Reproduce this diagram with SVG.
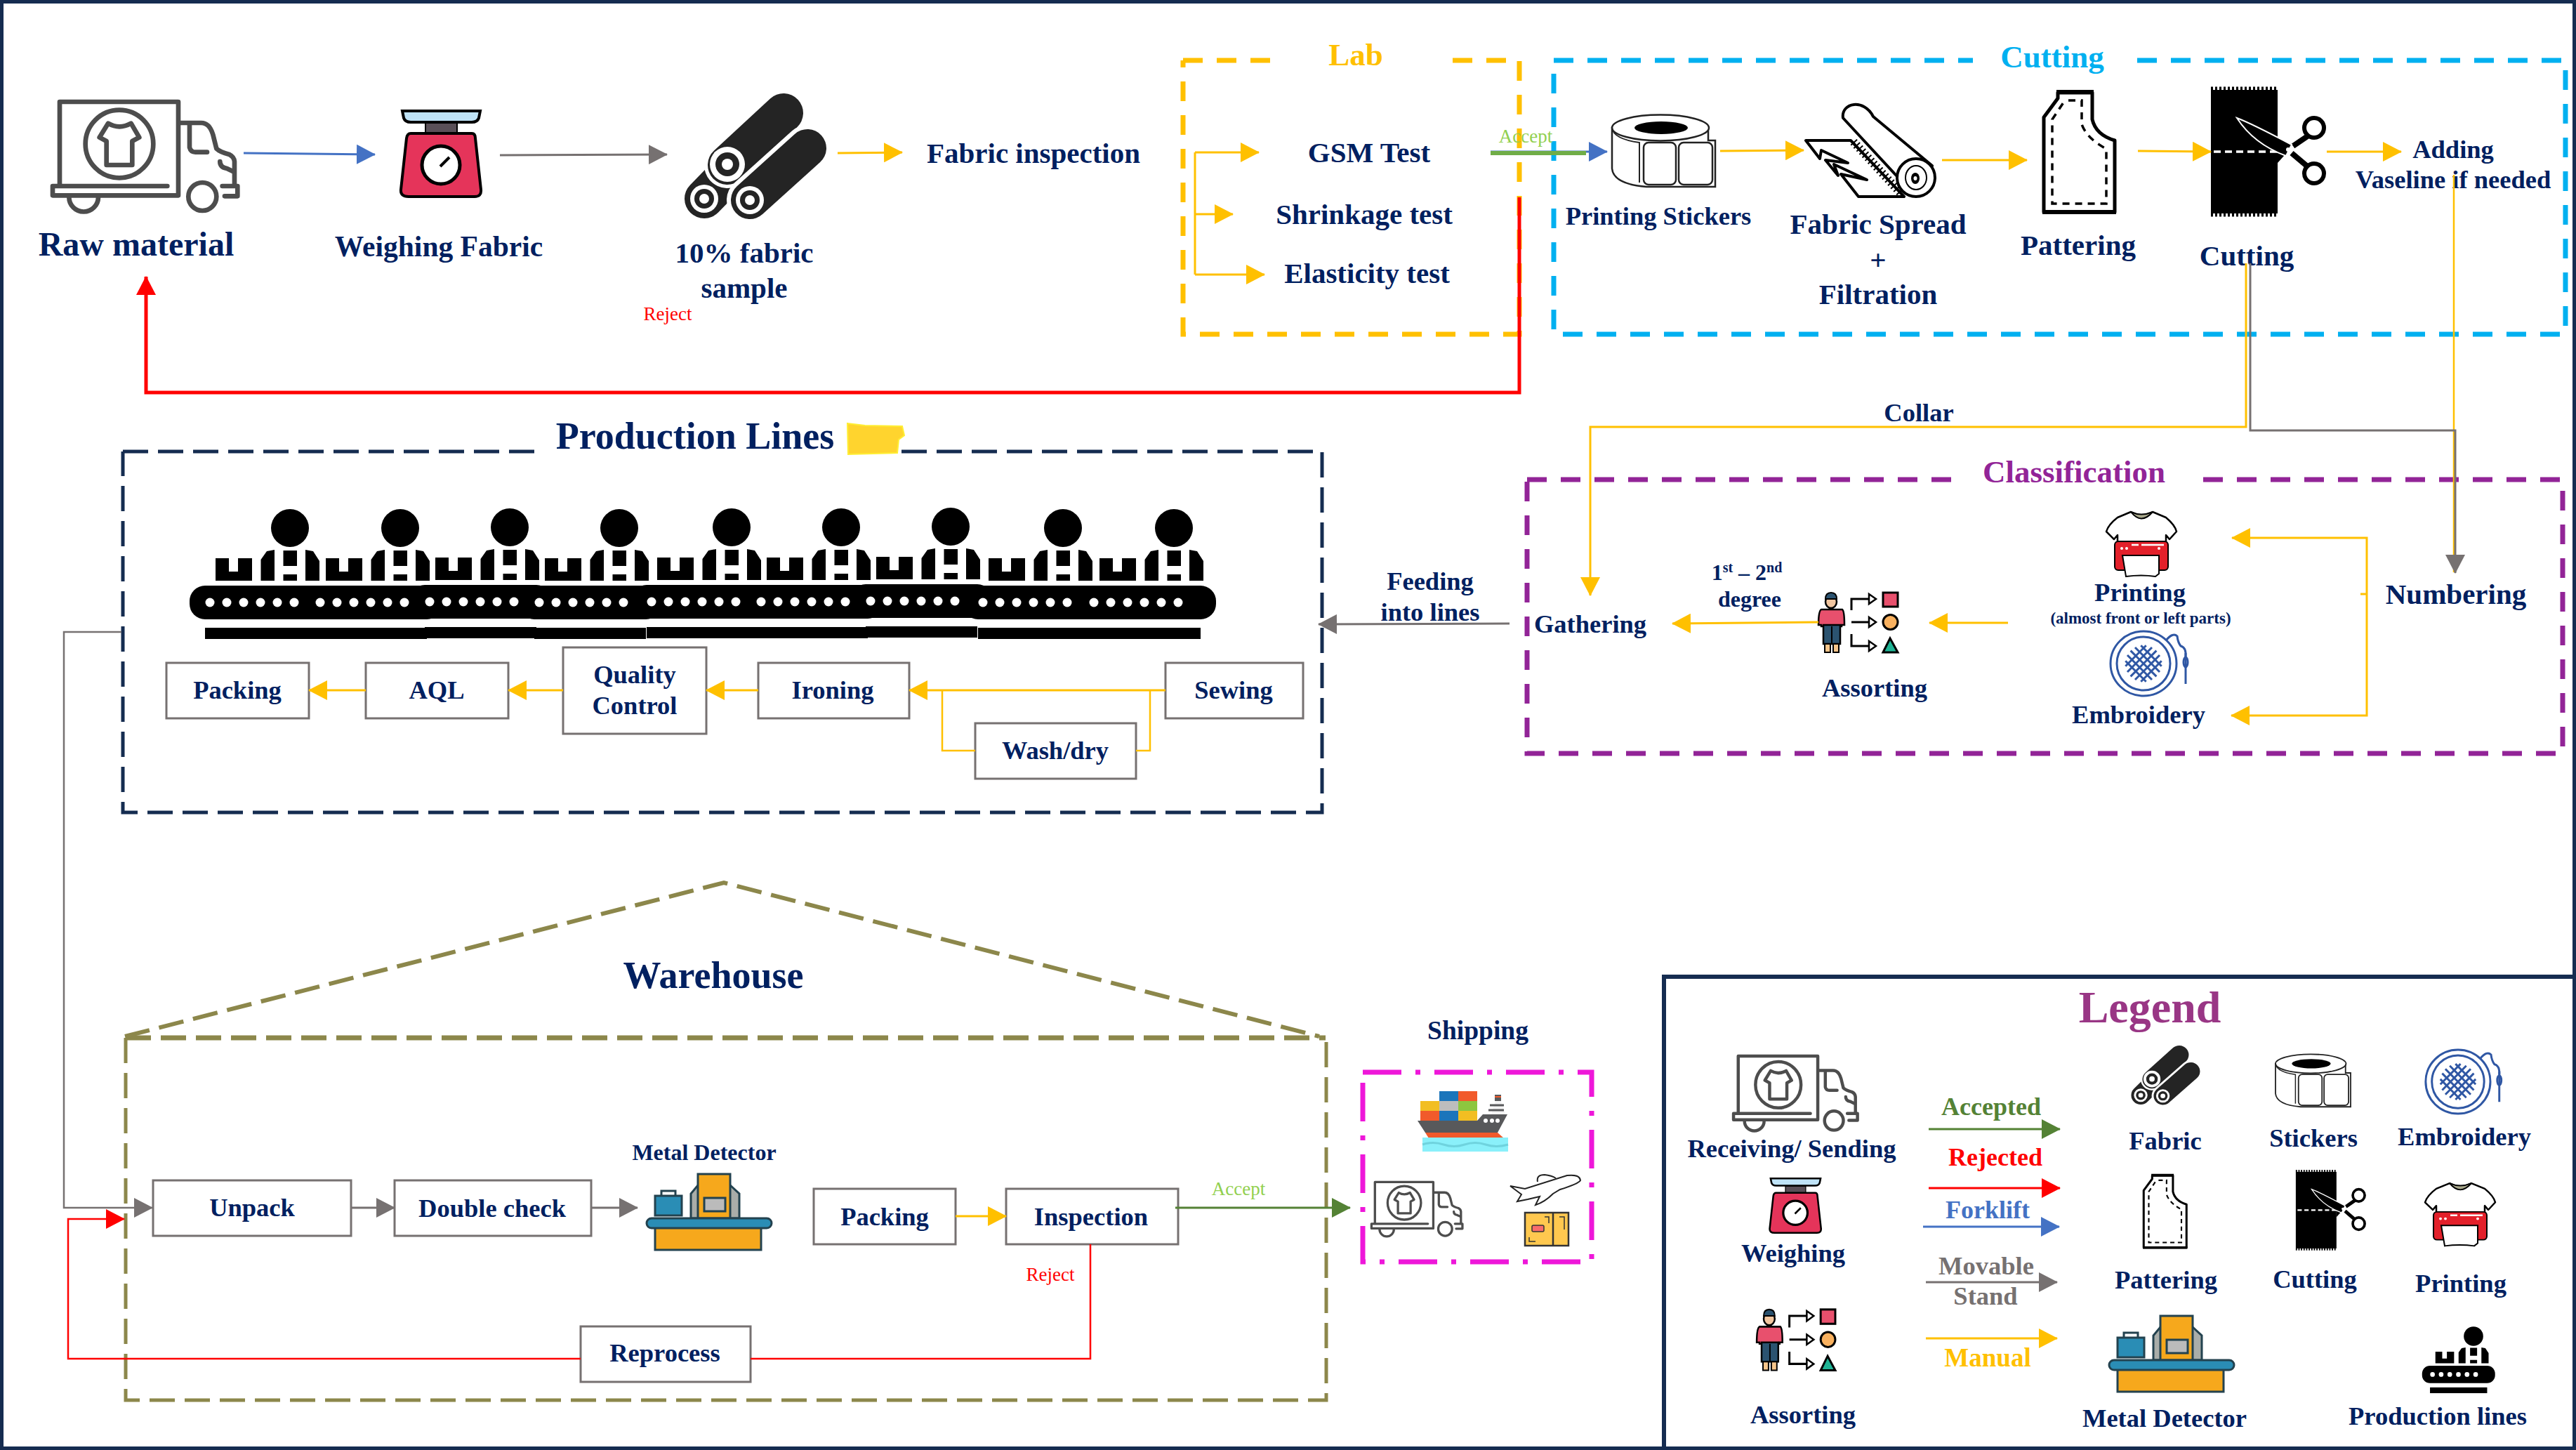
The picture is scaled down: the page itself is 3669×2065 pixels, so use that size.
<svg xmlns="http://www.w3.org/2000/svg" xmlns:xlink="http://www.w3.org/1999/xlink" width="3669" height="2065" viewBox="0 0 3669 2065">
<style>
text{font-family:"Liberation Serif","Times New Roman",serif}
.t{font-weight:bold;fill:#002060;text-anchor:middle;font-size:36.5px}
.b{font-size:41px}
.r{font-weight:normal;font-size:27px;text-anchor:middle}
.box{fill:#fff;stroke:#767171;stroke-width:3}
.f{fill:none}
.lab{stroke:#FFC000;stroke-width:7;stroke-dasharray:28 20}
.cut{stroke:#00B0F0;stroke-width:7;stroke-dasharray:28 20}
.cls{stroke:#922497;stroke-width:7;stroke-dasharray:28 20}
.pro{stroke:#152C50;stroke-width:5;stroke-dasharray:36 14}
.wh{stroke:#8C874B;stroke-width:5;stroke-dasharray:36 14}
.shp{stroke:#EE17D9;stroke-width:7;stroke-dasharray:55 20 7 20}
.o,.ol{stroke:#FFC000;stroke-width:3;fill:none}
.g,.gl{stroke:#767171;stroke-width:3;fill:none}
.u{stroke:#4472C4;stroke-width:3;fill:none}
.v{stroke:#548235;stroke-width:3;fill:none}
.x,.xl{stroke:#FF0000;stroke-width:2.5;fill:none}
.o{marker-end:url(#ao)}.g{marker-end:url(#ag)}.u{marker-end:url(#au)}.v{marker-end:url(#av)}.x{marker-end:url(#ax)}
.tk{fill:none;stroke:#4D4D4D;stroke-width:20;stroke-linejoin:round;stroke-linecap:round}
.em{fill:none;stroke:#2F57A4;stroke-width:3}
</style>
<defs>
<marker id="ao" markerUnits="userSpaceOnUse" markerWidth="27" markerHeight="28" refX="26" refY="14" orient="auto"><path d="M0 0L27 14L0 28Z" fill="#FFC000"/></marker>
<marker id="ag" markerUnits="userSpaceOnUse" markerWidth="27" markerHeight="28" refX="26" refY="14" orient="auto"><path d="M0 0L27 14L0 28Z" fill="#767171"/></marker>
<marker id="au" markerUnits="userSpaceOnUse" markerWidth="27" markerHeight="28" refX="26" refY="14" orient="auto"><path d="M0 0L27 14L0 28Z" fill="#4472C4"/></marker>
<marker id="av" markerUnits="userSpaceOnUse" markerWidth="27" markerHeight="28" refX="26" refY="14" orient="auto"><path d="M0 0L27 14L0 28Z" fill="#548235"/></marker>
<marker id="ax" markerUnits="userSpaceOnUse" markerWidth="27" markerHeight="28" refX="26" refY="14" orient="auto"><path d="M0 0L27 14L0 28Z" fill="#FF0000"/></marker>

<g id="i-truck">
<path class="tk" d="M75 430V75H582V475H45V435H535"/>
<path class="tk" d="M115 482A62 62 0 0 0 240 482"/>
<circle class="tk" cx="330" cy="255" r="145"/>
<path class="tk" d="M282 167Q330 195 380 167L415 227L385 243V345H275V243L245 227Z"/>
<path class="tk" d="M590 165H680Q715 165 730 215L745 275Q760 290 800 300Q820 310 822 330V430"/>
<path class="tk" d="M630 170V270Q635 290 655 290H705"/>
<path class="tk" d="M760 330Q760 355 790 360L815 372"/>
<circle class="tk" cx="685" cy="480" r="60"/>
<path class="tk" d="M770 435H835V478H780"/>
</g>

<g id="i-scale">
<path d="M606 175H651V190H606Z" fill="#5A5058" stroke="#000" stroke-width="2"/>
<path d="M573 158H684L682 168Q680 174 672 174H585Q577 174 575 168Z" fill="#BFE3F7" stroke="#000" stroke-width="4"/>
<path d="M585 190H672Q677 190 677 197L685 270Q686 280 676 280H582Q570 280 571 270L579 197Q580 190 585 190Z" fill="#E5345A" stroke="#000" stroke-width="4"/>
<circle cx="628" cy="235" r="27" fill="#fff" stroke="#000" stroke-width="5"/>
<path d="M627 237L640 224" stroke="#000" stroke-width="4" fill="none"/>
</g>

<g id="i-rolls">
<path d="M1003 283L1045 240" stroke="#242424" stroke-width="56" stroke-linecap="round"/>
<path d="M1036 235L1116 161" stroke="#fff" stroke-width="66" stroke-linecap="round"/>
<path d="M1036 235L1116 161" stroke="#242424" stroke-width="56" stroke-linecap="round"/>
<path d="M1068 285L1150 211" stroke="#fff" stroke-width="66" stroke-linecap="round"/>
<path d="M1068 285L1150 211" stroke="#242424" stroke-width="54" stroke-linecap="round"/>
<circle cx="1036" cy="234" r="25" fill="#fff"/><circle cx="1036" cy="234" r="17" fill="#242424"/><circle cx="1036" cy="234" r="8" fill="#fff"/>
<circle cx="1003" cy="283" r="20" fill="#fff"/><circle cx="1003" cy="283" r="14" fill="#242424"/><circle cx="1003" cy="283" r="7" fill="#fff"/>
<circle cx="1068" cy="285" r="20" fill="#fff"/><circle cx="1068" cy="285" r="14" fill="#242424"/><circle cx="1068" cy="285" r="7" fill="#fff"/>
</g>

<g id="i-stickers">
<path d="M2296 182V240Q2298 262 2345 266H2443V200H2433V182Z" fill="#fff" stroke="#222" stroke-width="2.5"/>
<ellipse cx="2365" cy="182" rx="69" ry="18.5" fill="#fff" stroke="#222" stroke-width="2.5"/>
<ellipse cx="2366" cy="182" rx="38" ry="9" fill="#000"/>
<path d="M2296 182Q2298 198 2335 203V260" fill="none" stroke="#222" stroke-width="2"/>
<rect x="2341" y="203" width="46" height="60" rx="7" fill="#fff" stroke="#222" stroke-width="2.5"/>
<rect x="2391" y="203" width="48" height="60" rx="7" fill="#fff" stroke="#222" stroke-width="2.5"/>
</g>

<g id="i-spread">
<path d="M2572 200H2636L2712 280H2647L2622 248L2659 256L2612 234L2618 250L2600 228L2632 232L2594 214L2592 226Z" fill="#fff" stroke="#000" stroke-width="4" stroke-linejoin="round"/>
<path d="M2640 202L2708 276" stroke="#000" stroke-width="12" stroke-dasharray="2 4" fill="none"/>
<path d="M2625 168C2622 146 2655 140 2668 166L2752 236L2712 262Z" fill="#fff" stroke="#000" stroke-width="4" stroke-linejoin="round"/>
<ellipse cx="2729" cy="253" rx="27" ry="27" fill="#fff" stroke="#000" stroke-width="4"/>
<ellipse cx="2729" cy="253" rx="15" ry="17" fill="none" stroke="#000" stroke-width="2"/>
<ellipse cx="2728" cy="254" rx="6" ry="8" fill="#000"/><ellipse cx="2728" cy="254" rx="2.5" ry="3" fill="#fff"/>
</g>

<g id="i-pattern">
<path d="M2931 132H2980V170Q2985 192 3012 200V302H2911V167L2931 140Z" fill="#fff" stroke="#000" stroke-width="5" stroke-linejoin="round"/>
<path d="M2929 131H2982M2909 302H3014" stroke="#000" stroke-width="6"/>
<path d="M2946 143H2965V177Q2972 197 3000 212V290H2923V170L2941 143" fill="none" stroke="#000" stroke-width="3.5" stroke-dasharray="10 8"/>
</g>

<g id="i-cutting">
<rect x="3149" y="128" width="95" height="176" fill="#000"/>
<path d="M3149 126H3244M3149 306H3244" stroke="#000" stroke-width="5" stroke-dasharray="3 3"/>
<path d="M3153 216H3246" stroke="#fff" stroke-width="3.5" stroke-dasharray="10 6"/>
<path d="M3244 232L3262 212L3244 205Z" fill="#000"/>
<path d="M3266 208L3288 193M3264 218L3290 240" stroke="#000" stroke-width="8"/>
<circle cx="3296" cy="182" r="14" fill="#fff" stroke="#000" stroke-width="6"/>
<circle cx="3296" cy="247" r="14" fill="#fff" stroke="#000" stroke-width="6"/>
<path d="M3186 168Q3205 175 3264 206L3256 222Q3210 205 3186 168Z" fill="#000" stroke="#fff" stroke-width="2"/>
<circle cx="3259" cy="213" r="3" fill="#fff"/>
</g>

<g id="i-print">
<path d="M3035 729Q3050 738 3066 729L3085 737Q3098 748 3100 757L3090 768L3085 762V773H3016V762L3011 768L3000 757Q3003 747 3016 737Z" fill="#fff" stroke="#000" stroke-width="2.5" stroke-linejoin="round"/>
<path d="M3035 729Q3050 748 3066 729Q3050 736 3035 729Z" fill="#A9A98C" stroke="#000" stroke-width="2"/>
<rect x="3012" y="771" width="76" height="41" rx="5" fill="#E3202A" stroke="#000" stroke-width="2"/>
<path d="M3036 776H3046M3050 776H3082" stroke="#fff" stroke-width="2.5"/>
<circle cx="3022" cy="781" r="2" fill="#fff"/><circle cx="3029" cy="781" r="2" fill="#fff"/><circle cx="3075" cy="781" r="2" fill="#fff"/>
<path d="M3023 791H3075V817L3070 821Q3050 818 3028 821Z" fill="#fff" stroke="#000" stroke-width="2"/>
</g>

<g id="i-emb">
<ellipse class="em" cx="3053" cy="945" rx="47" ry="46"/>
<ellipse class="em" cx="3053" cy="945" rx="38" ry="38"/>
<g transform="translate(3053 945)">
<path class="em" d="M-18.4-18.4L18.4 18.4M-12-23L23 12M-23-12L12 23M-3.7-25.7L25.7 3.7M-25.7-3.7L3.7 25.7"/>
<path class="em" transform="scale(-1 1)" d="M-18.4-18.4L18.4 18.4M-12-23L23 12M-23-12L12 23M-3.7-25.7L25.7 3.7M-25.7-3.7L3.7 25.7"/>
</g>
<path class="em" d="M3085 912Q3095 900 3101 906Q3102 915 3106 920Q3114 922 3113 935"/>
<path class="em" d="M3113 930V974" stroke-width="2"/>
<ellipse class="em" cx="3113" cy="943" rx="3" ry="7" stroke-width="2"/>
</g>

<g id="i-assort">
<path d="M2594 868H2624Q2627 870 2627 890H2623V892H2594V890H2590Q2590 870 2594 868Z" fill="#E8506D" stroke="#000" stroke-width="2.5"/>
<path d="M2597 890H2621V917H2597Z" fill="#2B5370" stroke="#000" stroke-width="2.5"/>
<path d="M2609 892V917" stroke="#000" stroke-width="2"/>
<path d="M2599 917H2607V929H2599ZM2611 917H2619V929H2611Z" fill="#F6C58A" stroke="#000" stroke-width="2"/>
<ellipse cx="2608" cy="857" rx="8" ry="9" fill="#F2C6A0" stroke="#000" stroke-width="2.5"/>
<path d="M2600 853Q2600 844 2608 844Q2616 844 2616 853Z" fill="#2B5370" stroke="#000" stroke-width="2"/>
<path d="M2637 869V853H2662M2637 886H2662M2637 903V920H2662" fill="none" stroke="#000" stroke-width="3"/>
<path d="M2662 846L2672 853L2662 860ZM2662 879L2672 886L2662 893ZM2662 913L2672 920L2662 927Z" fill="#fff" stroke="#000" stroke-width="2.5"/>
<rect x="2682" y="844" width="21" height="20" fill="#E8506D" stroke="#000" stroke-width="3"/>
<ellipse cx="2692.5" cy="886" rx="10.5" ry="10.5" fill="#F9B15F" stroke="#000" stroke-width="3"/>
<path d="M2692 909L2703 929H2682Z" fill="#1FB495" stroke="#000" stroke-width="3"/>
</g>

<g id="i-metal">
<rect x="933" y="1748" width="151" height="32" fill="#F6A81C" stroke="#23424F" stroke-width="3"/>
<path d="M984 1735V1700L994 1688H1040L1053 1700V1735Z" fill="#A9ADA9" stroke="#23424F" stroke-width="3"/>
<rect x="994" y="1672" width="46" height="63" fill="#F6A81C" stroke="#23424F" stroke-width="3"/>
<rect x="1003" y="1706" width="30" height="19" fill="#BBB" stroke="#23424F" stroke-width="3"/>
<rect x="933" y="1703" width="38" height="28" fill="#2A8DB5" stroke="#23424F" stroke-width="3"/>
<path d="M942 1703V1696H962V1703" fill="none" stroke="#23424F" stroke-width="3"/>
<rect x="921" y="1735" width="178" height="14" rx="7" fill="#2A8DB5" stroke="#23424F" stroke-width="3"/>
</g>

<g id="i-pl">
<ellipse cx="0" cy="0" rx="27" ry="27"/>
<path d="M-106 43H-87V62H-74V43H-54V75H-106Z"/>
<path d="M-41.5 75V45L-33 33L-22 31V75ZM-9.5 32H10V54H-9.5ZM-9.5 66H10V75H-9.5ZM22 31L33 33L42 47V75H22Z"/>
<rect x="-143" y="82" width="203" height="48" rx="22"/>
<rect x="-121" y="142" width="159" height="16"/>
<g fill="#fff"><circle cx="-114" cy="106" r="6.5"/><circle cx="-90" cy="106" r="6.5"/><circle cx="-66" cy="106" r="6.5"/><circle cx="-42" cy="106" r="6.5"/><circle cx="-18" cy="106" r="6.5"/><circle cx="6" cy="106" r="6.5"/></g>
</g>
</defs>

<rect width="3669" height="2065" fill="#fff"/>
<rect id="page-border" x="0" y="0" width="3669" height="2065" fill="none" stroke="#152C50" stroke-width="10"/>

<g id="frames">
<path class="f lab" d="M1685 86H1811M2069 86H2164V476H1685V86"/>
<text x="1931" y="93" font-size="45" font-weight="bold" fill="#FFC000" text-anchor="middle">Lab</text>
<path class="f cut" d="M2213 86H2810M3044 86H3654V476H2213V86"/>
<text x="2923" y="96" font-size="45" font-weight="bold" fill="#00B0F0" text-anchor="middle">Cutting</text>
<path class="f cls" d="M2175 683H2783M3138 683H3650V1073H2175V683"/>
<text x="2954" y="687" font-size="45" font-weight="bold" fill="#922497" text-anchor="middle">Classification</text>
<path class="f pro" d="M175 643H761M1284 643H1883V1157H175V643"/>
<text class="t" x="990" y="639" style="font-size:54px">Production Lines</text>
<path d="M1207 603L1232 606L1285 607L1288 620L1280 626L1278 645L1208 647Z" fill="#FFD42E" stroke="#FFEE33" stroke-width="2"/>
<path class="f wh" d="M179 1478V1994H1889V1478"/>
<path class="f wh" d="M179 1478H1888" style="stroke-width:7"/>
<path class="f wh" d="M178 1476L1031 1257L1879 1476" style="stroke-width:6"/>
<text class="t" x="1016" y="1407" style="font-size:54px">Warehouse</text>
<path class="f shp" d="M1941 1527H2267V1797H1941Z"/>
<text class="t" x="2105" y="1480" style="font-size:37.5px">Shipping</text>
</g>

<g id="nodes">
<g id="n-raw"><use href="#i-truck" transform="translate(60 120) scale(.3333)"/><text class="t" x="194" y="364" style="font-size:48px">Raw material</text></g>
<g id="n-weigh"><use href="#i-scale"/><text class="t b" x="625" y="365" style="font-size:41.5px">Weighing Fabric</text></g>
<g id="n-sample"><use href="#i-rolls"/><text class="t b" x="1060" y="374">10% fabric</text><text class="t b" x="1060" y="424">sample</text></g>
<g id="n-inspect"><text class="t b" x="1472" y="232">Fabric inspection</text></g>
<g id="n-gsm"><text class="t b" x="1950" y="231">GSM Test</text></g>
<g id="n-shrink"><text class="t b" x="1943" y="319">Shrinkage test</text></g>
<g id="n-elastic"><text class="t b" x="1947" y="403">Elasticity test</text></g>
<g id="n-stickers"><use href="#i-stickers"/><text class="t" x="2362" y="320">Printing Stickers</text></g>
<g id="n-spread"><use href="#i-spread"/><text class="t b" x="2675" y="333">Fabric Spread</text><text class="t b" x="2675" y="384">+</text><text class="t b" x="2675" y="433">Filtration</text></g>
<g id="n-pattern"><use href="#i-pattern"/><text class="t b" x="2960" y="363">Pattering</text></g>
<g id="n-cutting"><use href="#i-cutting"/><text class="t b" x="3200" y="378">Cutting</text></g>
<g id="n-vaseline"><text class="t" x="3494" y="225">Adding</text><text class="t" x="3494" y="268">Vaseline if needed</text></g>
<g id="n-numbering"><text class="t b" x="3498" y="860">Numbering</text></g>
<g id="n-printing"><use href="#i-print"/><text class="t" x="3048" y="856">Printing</text><text class="t" x="3049" y="888" style="font-size:23px">(almost front or left parts)</text></g>
<g id="n-embroidery"><use href="#i-emb"/><text class="t" x="3046" y="1030">Embroidery</text></g>
<g id="n-assorting"><use href="#i-assort"/><text class="t" x="2670" y="992">Assorting</text></g>
<g id="n-degree"><text class="t" x="2488" y="826" style="font-size:32px">1<tspan dy="-11" font-size="20">st</tspan><tspan dy="11"> – 2</tspan><tspan dy="-11" font-size="20">nd</tspan></text><text class="t" x="2492" y="864" style="font-size:32px">degree</text></g>
<g id="n-gathering"><text class="t" x="2265" y="901">Gathering</text></g>
<g id="n-feeding"><text class="t" x="2037" y="840">Feeding</text><text class="t" x="2037" y="884">into lines</text></g>

<g id="n-lines">
<use href="#i-pl" transform="translate(413 752)"/><use href="#i-pl" transform="translate(570 752)"/><use href="#i-pl" transform="translate(726 751)"/><use href="#i-pl" transform="translate(882 752)"/><use href="#i-pl" transform="translate(1042 751)"/><use href="#i-pl" transform="translate(1198 751)"/><use href="#i-pl" transform="translate(1354 750)"/><use href="#i-pl" transform="translate(1514 752)"/><use href="#i-pl" transform="translate(1672 752)"/>
</g>
<g id="n-sewing"><rect class="box" x="1660" y="944" width="196" height="79"/><text class="t" x="1757" y="995">Sewing</text></g>
<g id="n-wash"><rect class="box" x="1389" y="1030" width="229" height="79"/><text class="t" x="1503" y="1081">Wash/dry</text></g>
<g id="n-ironing"><rect class="box" x="1080" y="944" width="215" height="79"/><text class="t" x="1186" y="995">Ironing</text></g>
<g id="n-qc"><rect class="box" x="802" y="922" width="204" height="123"/><text class="t" x="904" y="973">Quality</text><text class="t" x="904" y="1017">Control</text></g>
<g id="n-aql"><rect class="box" x="521" y="944" width="203" height="79"/><text class="t" x="622" y="995">AQL</text></g>
<g id="n-packing1"><rect class="box" x="237" y="944" width="203" height="79"/><text class="t" x="338" y="995">Packing</text></g>

<g id="n-unpack"><rect class="box" x="218" y="1681" width="282" height="79"/><text class="t" x="359" y="1732">Unpack</text></g>
<g id="n-double"><rect class="box" x="562" y="1681" width="280" height="79"/><text class="t" x="701" y="1733">Double check</text></g>
<g id="n-metal"><use href="#i-metal"/><text class="t" x="1003" y="1652" style="font-size:32px">Metal Detector</text></g>
<g id="n-packing2"><rect class="box" x="1159" y="1693" width="202" height="79"/><text class="t" x="1260" y="1745">Packing</text></g>
<g id="n-inspection"><rect class="box" x="1433" y="1693" width="245" height="79"/><text class="t" x="1554" y="1745">Inspection</text></g>
<g id="n-reprocess"><rect class="box" x="827" y="1889" width="242" height="79"/><text class="t" x="947" y="1939">Reprocess</text></g>

<g id="n-shipping">
<rect x="2050" y="1554" width="27" height="14" fill="#1B75BB"/><rect x="2077" y="1554" width="27" height="14" fill="#F15A2B"/>
<rect x="2023" y="1568" width="27" height="14" fill="#F2BE22"/><rect x="2050" y="1568" width="27" height="14" fill="#BDBDBD"/><rect x="2077" y="1568" width="27" height="14" fill="#8DC63F"/>
<rect x="2023" y="1582" width="27" height="14" fill="#F15A2B"/><rect x="2050" y="1582" width="27" height="14" fill="#1B75BB"/><rect x="2077" y="1582" width="27" height="14" fill="#F2BE22"/>
<rect x="2129" y="1559" width="9" height="9" fill="#58595B"/><rect x="2129" y="1561" width="9" height="2" fill="#F15A2B"/>
<path d="M2124 1587L2130 1568H2138L2144 1587Z" fill="#F4F4F4"/>
<path d="M2122 1574H2142M2120 1581H2142" stroke="#58595B" stroke-width="3"/>
<path d="M2019 1596H2104L2112 1587H2147L2133 1613H2030Z" fill="#58595B"/>
<circle cx="2116" cy="1596" r="3" fill="#fff"/><circle cx="2125" cy="1596" r="3" fill="#fff"/><circle cx="2133" cy="1596" r="3" fill="#fff"/>
<path d="M2030 1613H2133L2142 1621H2035Z" fill="#F15A2B"/>
<rect x="2026" y="1620" width="122" height="20" fill="#8AF0FA"/>
<path d="M2026 1630Q2041 1625 2056 1630T2086 1630T2116 1630T2148 1630" fill="none" stroke="#6FD3DE" stroke-width="3"/>
<use href="#i-truck" transform="translate(1946 1671) scale(.164 .165)"/>
<path d="M2151 1689L2172 1693L2232 1674Q2250 1672 2251 1681Q2248 1686 2222 1694L2212 1700Q2200 1712 2187 1716L2193 1704L2176 1708L2161 1711L2167 1701Z" fill="#fff" stroke="#222" stroke-width="2"/>
<path d="M2190 1683Q2188 1673 2200 1673Q2210 1674 2216 1678" fill="#fff" stroke="#222" stroke-width="2"/>
<rect x="2172" y="1727" width="62" height="47" fill="#FFC84F" stroke="#333" stroke-width="2.5"/>
<path d="M2212 1727V1774" stroke="#333" stroke-width="2.5"/>
<path d="M2200 1733H2206V1742M2221 1733H2228V1751M2178 1762V1768H2187" fill="none" stroke="#333" stroke-width="1.5"/>
<rect x="2182" y="1745" width="17" height="9" rx="2" fill="#F96B6B" stroke="#333" stroke-width="1.5"/>
</g>

<g id="legend">
<path d="M2370 2065V1391H3669" fill="none" stroke="#152C50" stroke-width="6"/>
<text x="3062" y="1456" font-size="64" font-weight="bold" fill="#993685" text-anchor="middle">Legend</text>
<g id="lg-truck"><use href="#i-truck" transform="translate(2459 1487) scale(.2235 .227)"/><text class="t" x="2552" y="1648">Receiving/ Sending</text></g>
<g id="lg-weigh"><use href="#i-scale" transform="translate(2154.6 1578) scale(.641 .635)"/><text class="t" x="2554" y="1797">Weighing</text></g>
<g id="lg-assort"><use href="#i-assort" transform="translate(-62 1004) scale(.99 1.02)"/><text class="t" x="2568" y="2027">Assorting</text></g>
<g id="lg-fabric"><use href="#i-rolls" transform="translate(2562.6 1426.2) scale(.485 .472)"/><text class="t" x="3084" y="1637">Fabric</text></g>
<g id="lg-stickers"><use href="#i-stickers" transform="translate(1569.5 1381.8) scale(.728 .731)"/><text class="t" x="3295" y="1633">Stickers</text></g>
<g id="lg-emb"><use href="#i-emb" transform="translate(509 605) scale(.98 .99)"/><text class="t" x="3510" y="1631">Embroidery</text></g>
<g id="lg-pattern"><use href="#i-pattern" transform="translate(1295 1594.6) scale(.604 .603)"/><text class="t" x="3085" y="1835">Pattering</text></g>
<g id="lg-cutting"><use href="#i-cutting" transform="translate(1349 1589.5) scale(.61 .62)"/><text class="t" x="3297" y="1834">Cutting</text></g>
<g id="lg-print"><use href="#i-print" transform="translate(454 978) scale(1 .97)"/><text class="t" x="3505" y="1840">Printing</text></g>
<g id="lg-metal"><use href="#i-metal" transform="translate(2083 202)"/><text class="t" x="3083" y="2032">Metal Detector</text></g>
<g id="lg-lines"><use href="#i-pl" transform="translate(3523 1903) scale(.512 .513)"/><text class="t" x="3472" y="2029">Production lines</text></g>
<text x="2836" y="1588" font-size="36" font-weight="bold" fill="#548235" text-anchor="middle">Accepted</text>
<text x="2842" y="1660" font-size="36" font-weight="bold" fill="#FF0000" text-anchor="middle">Rejected</text>
<text x="2831" y="1735" font-size="36" font-weight="bold" fill="#4472C4" text-anchor="middle">Forklift</text>
<text x="2829" y="1815" font-size="36.5" font-weight="bold" fill="#767171" text-anchor="middle">Movable</text>
<text x="2828" y="1858" font-size="36.5" font-weight="bold" fill="#767171" text-anchor="middle">Stand</text>
<text x="2831" y="1946" font-size="37" font-weight="bold" fill="#FFC000" text-anchor="middle">Manual</text>
</g>
</g>

<g id="connectors">
<path class="u" d="M347 218L534 220"/>
<path class="g" d="M712 221L950 220"/>
<path class="o" d="M1193 218L1285 217"/>
<path class="ol" d="M1702 217V391"/>
<path class="o" d="M1702 217H1793"/>
<path class="o" d="M1702 305H1756"/>
<path class="o" d="M1702 391H1801"/>
<path class="u" d="M2123 216H2289"/>
<path d="M2123 218H2259" stroke="#70AD47" stroke-width="6" fill="none"/>
<text class="r" x="2173" y="203" fill="#92D050">Accept</text>
<path class="x" d="M2164 281V559H208V394" style="stroke-width:5"/>
<text class="r" x="951" y="456" fill="#FF0000">Reject</text>
<path class="o" d="M2450 215L2569 214"/>
<path class="o" d="M2766 228H2887"/>
<path class="o" d="M3045 215L3149 216"/>
<path class="o" d="M3314 216L3420 216"/>
<path class="o" d="M3199 375V608H2265V848"/>
<text class="t" x="2733" y="600">Collar</text>
<path class="ol" d="M3495 249V815" style="stroke-width:2.5"/>
<path class="g" d="M3205 375V613H3497V816"/>
<path class="ol" d="M3371 846H3362"/>
<path class="o" d="M3371 846V766H3179"/>
<path class="o" d="M3371 846V1019H3178"/>
<path class="o" d="M2860 887H2748"/>
<path class="o" d="M2590 886L2382 888"/>
<path class="g" d="M2150 888L1878 889"/>
<path class="o" d="M1660 983H1295"/>
<path class="ol" d="M1638 983V1069H1618M1342 983V1069H1389" style="stroke-width:2.5"/>
<path class="o" d="M1080 983H1006"/>
<path class="o" d="M802 983H724"/>
<path class="o" d="M521 983H440"/>
<path class="g" d="M173 900H91V1720H217" style="stroke-width:2.5"/>
<path class="g" d="M500 1720H562"/>
<path class="g" d="M842 1720H908"/>
<path class="o" d="M1361 1732H1433"/>
<path class="v" d="M1674 1720H1923"/>
<text class="r" x="1764" y="1702" fill="#92D050">Accept</text>
<text class="r" x="1496" y="1824" fill="#FF0000">Reject</text>
<path class="xl" d="M1553 1772V1935H1069"/>
<path class="x" d="M827 1935H97V1736H177"/>
<path class="v" d="M2747 1608H2934"/>
<path class="x" d="M2747 1692H2934" style="stroke-width:3"/>
<path class="u" d="M2739 1747H2933"/>
<path class="g" d="M2743 1826H2930"/>
<path class="o" d="M2743 1906H2930"/>
</g>
</svg>
